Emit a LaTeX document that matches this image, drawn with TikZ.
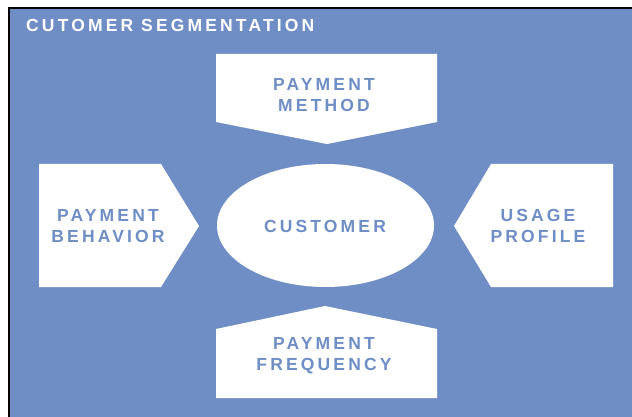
\documentclass[tikz,border=0pt]{standalone}
\usepackage{fontspec}
\setmainfont{Liberation Sans}
\newfontfamily\lblfont[LetterSpace=18]{Liberation Sans}
\usetikzlibrary{shapes.geometric}
\definecolor{segblue}{RGB}{111,142,198}
\begin{document}
\begin{tikzpicture}[x=1pt,y=-1pt,
  panel/.style={fill=white,draw=none},
  lbl/.style={text=segblue,font={\lblfont\bfseries\fontsize{17.5}{21}\selectfont},
    align=center,inner sep=0pt}]
\useasboundingbox (0,0) rectangle (632,417);
\fill[white] (0,0) rectangle (632,417);
% blue panel with black top and left edges
\fill[segblue] (7.5,6.7) rectangle (632,417);
\draw[line width=2.2pt] (8.6,417) -- (8.6,7.7) -- (632,7.7);

\node[anchor=base west,text=white,inner sep=0pt,
  font={\lblfont\bfseries\fontsize{17.5}{21}\selectfont}] (title) at (26,32) {CUTOMER SEGMENTATION};

% pointed panels around the centre
\fill[panel] (216,54) -- (437,54) -- (437,122) -- (327,144) -- (216,122) -- cycle;
\fill[panel] (39,164) -- (161,164) -- (199,226) -- (161,287) -- (39,287) -- cycle;
\fill[panel] (613,164) -- (491,164) -- (454,226) -- (491,287) -- (613,287) -- cycle;
\fill[panel] (216,398) -- (216,329) -- (325,306) -- (437,329) -- (437,398) -- cycle;

\node[ellipse,fill=white,minimum width=217pt,minimum height=123pt,inner sep=0pt] (customer) at (325.5,225.5) {};
\node[lbl] (customerlbl) at (325,226) {CUSTOMER};

\node[lbl] (method) at (324,95) {PAYMENT\\METHOD};
\node[lbl] (behavior) at (108,226) {PAYMENT\\BEHAVIOR};
\node[lbl] (usage) at (538,226) {USAGE\\PROFILE};
\node[lbl] (frequency) at (324,355.5) {PAYMENT\\FREQUENCY};
\end{tikzpicture}
\end{document}
